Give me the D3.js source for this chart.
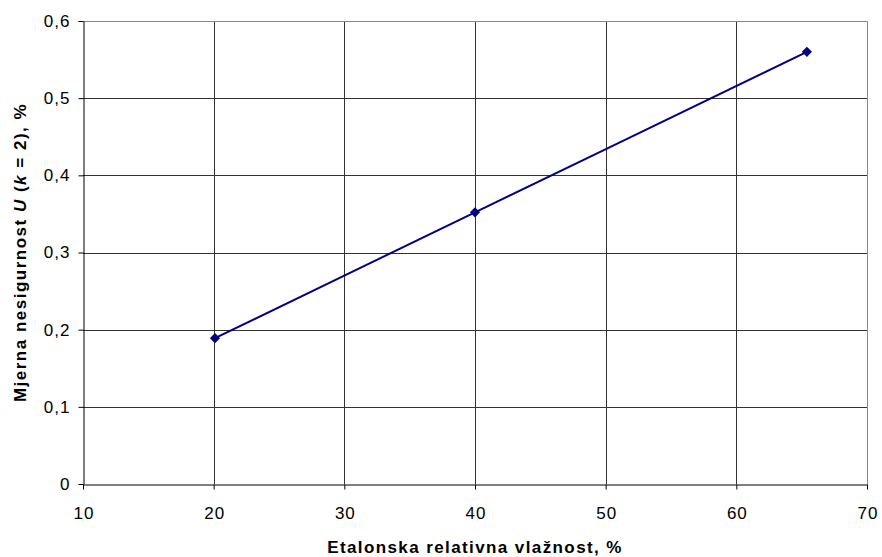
<!DOCTYPE html>
<html><head><meta charset="utf-8">
<script src="https://cdn.jsdelivr.net/npm/d3@7"></script>
<style>body{margin:0;background:#fff;}svg{display:block;font-family:"Liberation Sans",Arial,sans-serif;}</style>
</head><body><svg id="c" width="882" height="557"></svg>
<script>
const xValues = [20.1, 40, 65.4];
const yValues = [0.189, 0.352, 0.560];
const xTicks = [10, 20, 30, 40, 50, 60, 70];
const yTicks = [0, 0.1, 0.2, 0.3, 0.4, 0.5, 0.6];

const svg = d3.select("#c");
const L = 83, R = 867, T = 21, B = 484;
const x = d3.scaleLinear().domain([10, 70]).range([L, R]);
const y = d3.scaleLinear().domain([0, 0.6]).range([B, T]);
const fmt = v => d3.format(".1f")(v).replace(".", ",").replace(/^0,0$/, "0");

// grid
svg.append("g").selectAll("line").data(xTicks.slice(1, -1)).join("line")
  .attr("x1", d => Math.round(x(d)) + 0.5).attr("x2", d => Math.round(x(d)) + 0.5)
  .attr("y1", T).attr("y2", B).attr("stroke", "#333").attr("stroke-width", 1);
svg.append("g").selectAll("line").data(yTicks.slice(1, -1)).join("line")
  .attr("y1", d => Math.round(y(d)) + 0.5).attr("y2", d => Math.round(y(d)) + 0.5)
  .attr("x1", L).attr("x2", R).attr("stroke", "#333").attr("stroke-width", 1);
// top/right border
svg.append("path").attr("d", `M${L},${T + 0.5}H${R + 0.5}V${B}`).attr("fill", "none").attr("stroke", "#888");

// axes
const xa = svg.append("g").attr("transform", `translate(0,${B + 0.5})`)
  .call(d3.axisBottom(x).tickValues(xTicks).tickSize(5).tickSizeOuter(0).tickPadding(17));
const ya = svg.append("g").attr("transform", `translate(${L + 0.5},0)`)
  .call(d3.axisLeft(y).tickValues(yTicks).tickSize(5).tickSizeOuter(0).tickPadding(8).tickFormat(fmt));
[xa, ya].forEach(a => {
  a.select(".domain").attr("stroke", "#000");
  a.selectAll(".tick line").attr("stroke", "#000");
  a.selectAll("text").attr("font-size", 17).attr("fill", "#000")
    .attr("font-family", "Liberation Sans, Arial, sans-serif").attr("letter-spacing", 1);
});
xa.selectAll("text").attr("dx", 0.5);

// line
const pts = xValues.map((v, i) => [x(v), y(yValues[i])]);
svg.append("path").attr("d", d3.line().curve(d3.curveCatmullRom.alpha(0.5))(pts))
  .attr("fill", "none").attr("stroke", "#000080").attr("stroke-width", 2);
svg.append("g").selectAll("path").data(pts).join("path")
  .attr("d", d3.symbol(d3.symbolDiamond2, 66)())
  .attr("transform", d => `translate(${d[0]},${d[1]})`)
  .attr("fill", "#000080");

// titles
svg.append("text").attr("x", (L + R) / 2).attr("y", 553).attr("text-anchor", "middle")
  .attr("font-size", 17).attr("font-weight", "bold").attr("letter-spacing", 1.4)
  .text("Etalonska relativna vlažnost, %");
const yt = svg.append("text").attr("transform", `translate(26,${(T + B) / 2}) rotate(-90)`)
  .attr("text-anchor", "middle").attr("font-size", 17).attr("font-weight", "bold").attr("letter-spacing", 1.5);
yt.append("tspan").text("Mjerna nesigurnost ");
yt.append("tspan").attr("font-style", "italic").text("U");
yt.append("tspan").text(" (");
yt.append("tspan").attr("font-style", "italic").text("k");
yt.append("tspan").text(" = 2), %");
</script></body></html>
